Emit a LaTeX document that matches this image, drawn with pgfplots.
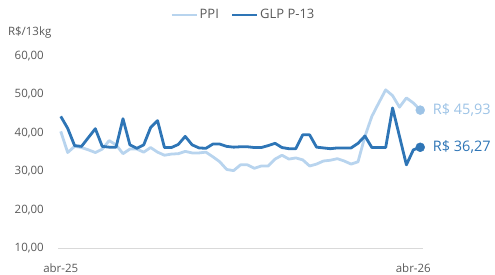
\documentclass[border=0pt]{standalone}
\usepackage{pgfplots}
\pgfplotsset{compat=1.18}
\usepackage{fontspec}
\setmainfont{Open Sans}
\definecolor{ppi}{HTML}{B8D4EE}
\definecolor{ppimark}{HTML}{9DC3E6}
\definecolor{glp}{HTML}{2E75B6}
\definecolor{txt}{HTML}{595959}
\definecolor{axl}{HTML}{D9D9D9}
\begin{document}
\begin{tikzpicture}
\path[use as bounding box] (0pt,0pt) rectangle (495pt,274pt);
\begin{axis}[
  at={(58pt,25.7pt)}, anchor=south west,
  scale only axis, width=365pt, height=192.3pt,
  xmin=-0.4, xmax=52.4, ymin=10, ymax=60,
  axis x line*=bottom, axis y line*=left,
  x axis line style={draw=axl, line width=1pt, -},
  y axis line style={draw=none, -},
  xtick={0,51}, xticklabels={abr-25,abr-26},
  ytick={10,20,30,40,50,60},
  yticklabels={{10,00},{20,00},{30,00},{40,00},{50,00},{60,00}},
  major tick length=0pt,
  tick style={draw=none},
  every tick label/.append style={font=\fontsize{11.5}{13}\selectfont, text=txt},
  yticklabel style={anchor=east, inner sep=0pt, xshift=-14pt},
  xticklabel style={anchor=base, inner sep=0pt, yshift=-24pt},
  clip=false,
  legend style={at={(0.508,1.215)}, anchor=center, draw=none, fill=none,
    font=\fontsize{13}{15}\selectfont, text=txt, legend columns=2,
    /tikz/every even column/.append style={column sep=10pt},
    inner sep=0pt},
  legend image code/.code={\draw[#1, line width=2.2pt] (0pt,0pt) -- (25pt,0pt);},
]
\addplot[ppi, line width=2.8pt, line join=round] coordinates {
(0,40.4)(1,34.9)(2,36.5)(3,36.2)(4,35.6)(5,34.9)(6,35.8)(7,38.0)(8,36.9)(9,34.6)
(10,35.8)(11,35.8)(12,35.0)(13,36.2)(14,35.0)(15,34.2)(16,34.5)(17,34.6)(18,35.2)(19,34.8)
(20,34.8)(21,35.0)(22,33.8)(23,32.5)(24,30.5)(25,30.2)(26,31.7)(27,31.7)(28,30.8)(29,31.4)
(30,31.4)(31,33.2)(32,34.2)(33,33.2)(34,33.5)(35,33.0)(36,31.4)(37,31.9)(38,32.7)(39,32.9)
(40,33.3)(41,32.7)(42,31.9)(43,32.5)(44,39.1)(45,44.3)(46,47.8)(47,51.2)(48,49.7)(49,46.7)
(50,49.1)(51,47.8)(52,45.93)};
\addlegendentry{PPI}
\addplot[glp, line width=2.8pt, line join=round] coordinates {
(0,44.3)(1,41.2)(2,36.7)(3,36.5)(4,38.8)(5,41.1)(6,36.5)(7,36.3)(8,36.3)(9,43.7)
(10,36.9)(11,36.0)(12,36.9)(13,41.4)(14,43.2)(15,36.2)(16,36.2)(17,37.0)(18,39.1)(19,36.9)
(20,36.1)(21,36.0)(22,37.1)(23,37.1)(24,36.5)(25,36.3)(26,36.4)(27,36.4)(28,36.2)(29,36.2)
(30,36.7)(31,37.3)(32,36.2)(33,35.9)(34,35.9)(35,39.5)(36,39.5)(37,36.3)(38,36.1)(39,35.9)
(40,36.1)(41,36.1)(42,36.1)(43,37.3)(44,39.2)(45,36.2)(46,36.2)(47,36.2)(48,46.5)(49,39.1)
(50,31.7)(51,35.6)(52,36.27)};
\addlegendentry{GLP P-13}
\addplot[only marks, mark=*, mark size=4.5pt, color=ppimark, forget plot] coordinates {(52,45.93)};
\addplot[only marks, mark=*, mark size=4.5pt, color=glp, forget plot] coordinates {(52,36.27)};
\node[anchor=west, inner sep=0pt, text=ppimark, font=\fontsize{14.5}{16}\selectfont] at (axis cs:52,45.93) [xshift=12.5pt] {R\$ 45,93};
\node[anchor=west, inner sep=0pt, text=glp, font=\fontsize{14.5}{16}\selectfont] at (axis cs:52,36.27) [xshift=12.5pt] {R\$ 36,27};
\end{axis}
\node[anchor=center, inner sep=0pt, text=txt, font=\fontsize{11.5}{13}\selectfont] at (29.7pt,241pt) {R\$/13kg};
\end{tikzpicture}
\end{document}
